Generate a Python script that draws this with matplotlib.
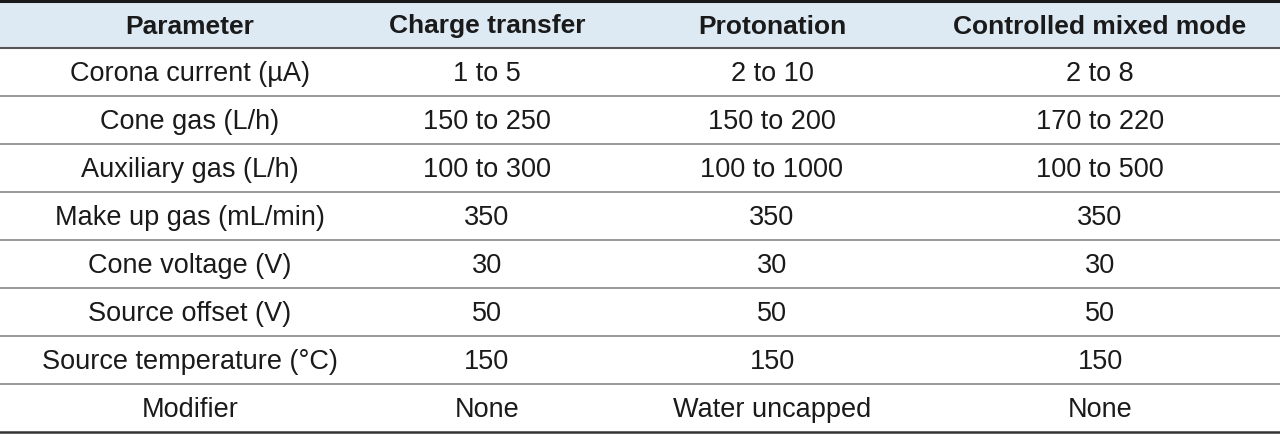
import matplotlib
matplotlib.use("Agg")
import matplotlib.pyplot as plt

columns = ["Parameter", "Charge transfer", "Protonation", "Controlled mixed mode"]
parameters = ["Corona current (µA)", "Cone gas (L/h)", "Auxiliary gas (L/h)", "Make up gas (mL/min)",
              "Cone voltage (V)", "Source offset (V)", "Source temperature (°C)", "Modifier"]
charge_transfer = ["1 to 5", "150 to 250", "100 to 300", "350", "30", "50", "150", "None"]
protonation = ["2 to 10", "150 to 200", "100 to 1000", "350", "30", "50", "150", "Water uncapped"]
mixed_mode = ["2 to 8", "170 to 220", "100 to 500", "350", "30", "50", "150", "None"]

W, H = 1280, 435
fig = plt.figure(figsize=(12.8, 4.35), dpi=100)
ax = fig.add_axes([0, 0, 1, 1])
ax.set_xlim(0, W); ax.set_ylim(H, 0); ax.axis("off")

xc = [190, 487, 772, 1100]
top, hdr_bot, bot = 2, 49, 433
n = len(parameters)
rh = (bot - hdr_bot) / n
ax.add_patch(plt.Rectangle((0, top), W, hdr_bot - top, color="#dde9f3", lw=0))
ax.plot([0, W], [top, top], color="#1a1a1a", lw=2.2)
ax.plot([0, W], [hdr_bot, hdr_bot], color="#555555", lw=1.5)
ax.plot([0, W], [bot, bot], color="#333333", lw=1.8)
for i in range(1, n):
    y = hdr_bot + i * rh
    ax.plot([0, W], [y, y], color="#888888", lw=1.2)

font = ["Liberation Sans", "DejaVu Sans"]
for x, c in zip(xc, columns):
    ax.text(x, (top + hdr_bot) / 2 + 1, c, ha="center", va="center", fontsize=19,
            fontweight="bold", family=font, color="#1a1a1a")
cols = [parameters, charge_transfer, protonation, mixed_mode]
for i in range(n):
    y = hdr_bot + (i + 0.5) * rh + 1
    for x, col in zip(xc, cols):
        ax.text(x, y, col[i], ha="center", va="center", fontsize=19.5, family=font, color="#1a1a1a")

fig.savefig("out.png", dpi=100)
